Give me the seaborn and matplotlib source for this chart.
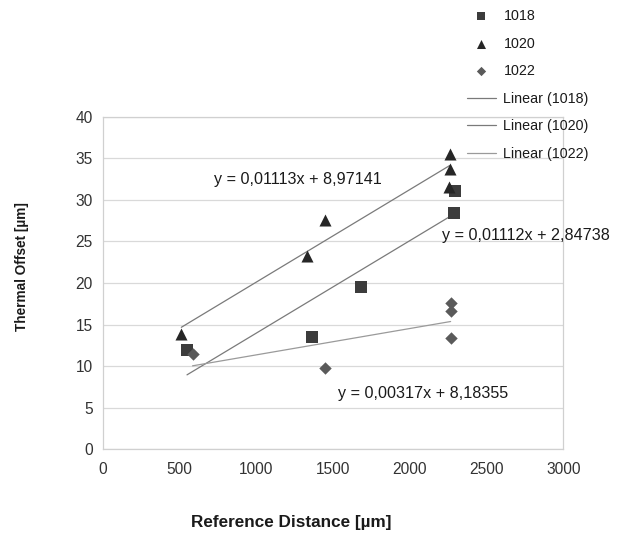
import numpy as np
import pandas as pd
import seaborn as sns
import matplotlib.pyplot as plt

# series
x_1018 = [549, 1361, 1681, 2288, 2292]
y_1018 = [11.9, 13.5, 19.5, 28.4, 31.1]
x_1020 = [512, 1328, 1449, 2261, 2261, 2255]
y_1020 = [13.9, 23.3, 27.6, 35.5, 33.7, 31.6]
x_1022 = [585, 1449, 2266, 2266, 2266]
y_1022 = [11.5, 9.8, 17.6, 16.6, 13.4]

names = ["1018", "1020", "1022"]
# trendline coefficients as printed on the chart
slopes = [0.01112, 0.01113, 0.00317]
intercepts = [2.84738, 8.97141, 8.18355]
eq_labels = ["y = 0,01112x + 2,84738", "y = 0,01113x + 8,97141", "y = 0,00317x + 8,18355"]
eq_pos = [(2208, 25.75), (725, 32.4), (1532, 6.65)]

xticks = list(range(0, 3001, 500))
yticks = list(range(0, 41, 5))

sns.set_style("whitegrid")
plt.rcParams["font.family"] = ["Liberation Sans", "DejaVu Sans"]

fig = plt.figure(figsize=(6.21, 5.35), dpi=100)
ax = fig.add_axes([0.1654, 0.1602, 0.7417, 0.6217])

xs = [x_1018, x_1020, x_1022]
ys = [y_1018, y_1020, y_1022]
markers = ["s", "^", "D"]
sizes = [72, 75, 40]
colors = ["#3c3c3c", "#262626", "#5a5a5a"]
line_colors = ["#7a7a7a", "#7a7a7a", "#9a9a9a"]

for x, y, n, m, s, c in zip(xs, ys, names, markers, sizes, colors):
    sns.scatterplot(x=x, y=y, marker=m, s=s, color=c, linewidth=0, ax=ax, label=n, zorder=3)

for x, n, k, b, lc in zip(xs, names, slopes, intercepts, line_colors):
    lx = np.array([min(x), max(x)])
    sns.lineplot(x=lx, y=k * lx + b, color=lc, linewidth=0.9, ax=ax,
                 label="Linear (" + n + ")", zorder=2)

for t, (px, py) in zip(eq_labels, eq_pos):
    ax.text(px, py, t, fontsize=11.6, color="#1a1a1a", va="center", ha="left")

ax.set_xlim(0, 3000)
ax.set_ylim(0, 40)
ax.set_xticks(xticks)
ax.set_yticks(yticks)
ax.grid(axis="y", color="#d9d9d9", linewidth=0.9)
ax.grid(axis="x", visible=False)
for sp in ax.spines.values():
    sp.set_color("#d0d0d0")
    sp.set_linewidth(0.9)
ax.tick_params(axis="both", length=3.5, width=0.8, color="#c8c8c8",
               labelsize=11.2, labelcolor="#333333", direction="out")
ax.tick_params(axis="x", pad=5.5)
ax.tick_params(axis="y", pad=3.5)
ax.set_xlabel("")
ax.set_ylabel("")

handles, labels = ax.get_legend_handles_labels()
ax.get_legend().remove()
fig.legend(handles, labels, loc="upper left", bbox_to_anchor=(467 / 621, 1 - 9 / 535),
           frameon=False, fontsize=10.3, labelspacing=0.95, handlelength=2.0,
           handletextpad=0.55, borderpad=0, borderaxespad=0, markerscale=0.75,
           labelcolor="#1a1a1a")

fig.text(291 / 621, 1 - 522 / 535, "Reference Distance [µm]", ha="center", va="center",
         fontsize=12.3, fontweight="bold", color="#1a1a1a")
fig.text(22 / 621, 1 - 267 / 535, "Thermal Offset [µm]", ha="center", va="center",
         rotation=90, fontsize=9.8, fontweight="bold", color="#1a1a1a")

fig.savefig("out.png", dpi=100)
